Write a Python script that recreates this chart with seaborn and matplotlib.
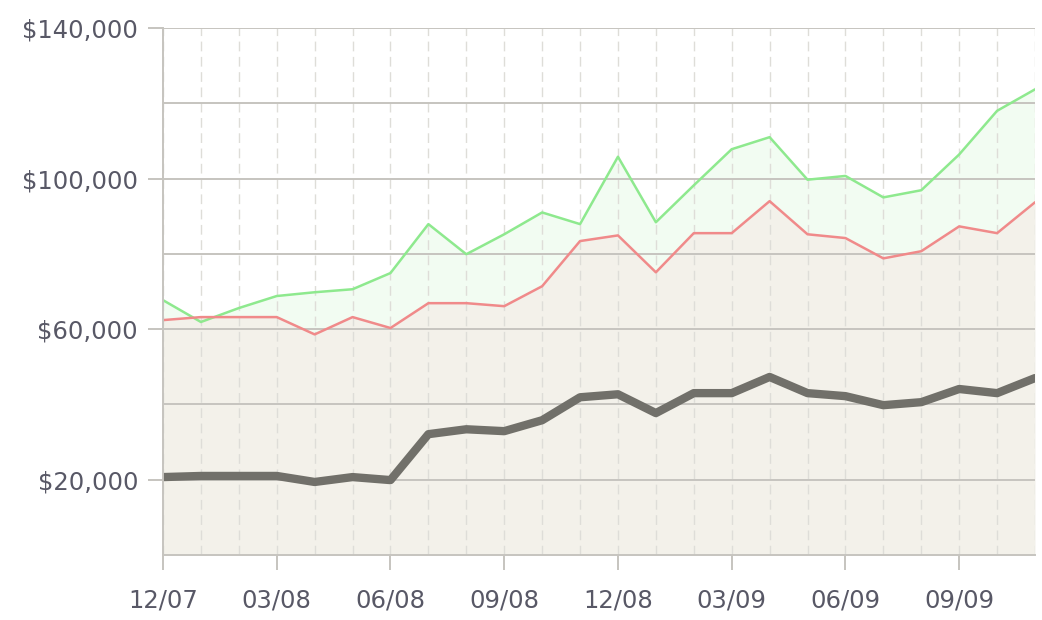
import numpy as np
import pandas as pd
import matplotlib
matplotlib.use("Agg")
import matplotlib.pyplot as plt
import seaborn as sns
from matplotlib.ticker import FuncFormatter

# monthly values, 12/07 .. 11/09
months = ["12/07", "01/08", "02/08", "03/08", "04/08", "05/08", "06/08", "07/08",
          "08/08", "09/08", "10/08", "11/08", "12/08", "01/09", "02/09", "03/09",
          "04/09", "05/09", "06/09", "07/09", "08/09", "09/09", "10/09", "11/09"]
high = [67700, 61900, 65600, 68800, 69800, 70600, 74900, 87900, 79900, 85200, 91000, 87900,
        105800, 88400, 98200, 107800, 111000, 99700, 100700, 95000, 96900, 106400, 118000, 123700]
mid = [62400, 63200, 63200, 63200, 58600, 63200, 60300, 66900, 66900, 66100, 71400, 83400,
       84900, 75100, 85500, 85500, 94000, 85200, 84200, 78800, 80700, 87300, 85500, 93700]
low = [20700, 21000, 21000, 21000, 19400, 20700, 19900, 32100, 33400, 32900, 35800, 41900,
       42700, 37700, 43000, 43000, 47300, 43000, 42200, 39800, 40600, 44100, 43000, 47000]

df = pd.DataFrame({"i": np.arange(len(months)), "high": high, "mid": mid, "low": low})

sns.set_style("white")
plt.rcParams['font.family'] = ['DejaVu Sans']
txt = '#585866'

fig = plt.figure(figsize=(10.42, 6.2), dpi=100)
ax = fig.add_axes([163 / 1042, 65 / 620, 872 / 1042, 527 / 620])

# fills under the grid
ax.fill_between(df["i"], 0, df["mid"], color='#f3f1ea', lw=0, zorder=0.1)
ax.fill_between(df["i"], df["mid"], df["high"], where=df["high"] >= df["mid"],
                interpolate=True, color='#f2fcf2', lw=0, zorder=0.1)

# vertical dashed month lines
for xv in df["i"]:
    ax.axvline(xv, color='#deddd8', lw=1.0, ls=(0, (7, 4)), zorder=0.5)
for yv in range(20000, 140001, 20000):
    ax.axhline(yv, color='#c6c4bf', lw=1.4, zorder=2)

sns.lineplot(data=df, x="i", y="high", color='#8ee98e', lw=1.8, ax=ax, zorder=4)
sns.lineplot(data=df, x="i", y="mid", color='#f08a8a', lw=1.8, ax=ax, zorder=4)
sns.lineplot(data=df, x="i", y="low", color='#71706a', lw=6, ax=ax, zorder=5,
             solid_capstyle='round', solid_joinstyle='round')

ax.set_xlim(0, len(months) - 1)
ax.set_ylim(0, 140000)
ax.set_xlabel("")
ax.set_ylabel("")

ax.set_yticks(np.arange(20000, 140001, 40000))
ax.yaxis.set_major_formatter(FuncFormatter(lambda v, p: "${:,.0f}".format(v)))
ax.set_xticks(np.arange(0, len(months), 3))
ax.set_xticklabels(months[::3])
ax.grid(False)

ax.tick_params(axis='y', length=11, width=1.4, color='#c6c4bf',
               pad=7, labelsize=17.5, labelcolor=txt, left=True)
ax.tick_params(axis='x', length=11, width=1.4, color='#c6c4bf',
               pad=13, labelsize=17.5, labelcolor=txt, bottom=True)

for s in ['top', 'right']:
    ax.spines[s].set_visible(False)
for s in ['left', 'bottom']:
    ax.spines[s].set_color('#c6c4bf')
    ax.spines[s].set_linewidth(1.4)
    ax.spines[s].set_zorder(6)

fig.savefig("out.png", dpi=100)
